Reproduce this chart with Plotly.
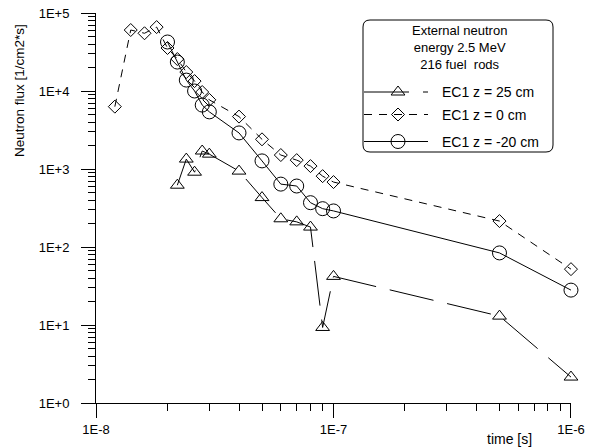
import plotly.graph_objects as go

# ---------------- data ----------------
t_z25 = [2.2e-8, 2.4e-8, 2.6e-8, 2.8e-8, 3.0e-8, 4e-8, 5e-8, 6e-8, 7e-8, 8e-8, 9e-8, 1e-7, 5e-7, 1e-6]
flux_z25 = [620, 1340, 910, 1700, 1550, 940, 430, 230, 210, 180, 9.3, 42, 13, 2.15]

t_z0 = [1.2e-8, 1.4e-8, 1.6e-8, 1.8e-8, 2.0e-8, 2.2e-8, 2.4e-8, 2.6e-8, 2.8e-8, 3.0e-8,
        4e-8, 5e-8, 6e-8, 7e-8, 8e-8, 9e-8, 1e-7, 5e-7, 1e-6]
flux_z0 = [6300, 60500, 55000, 66000, 35600, 25700, 17500, 13400, 9700, 7700,
           4700, 2400, 1510, 1300, 1090, 810, 680, 215, 52]

t_zm20 = [2.0e-8, 2.2e-8, 2.4e-8, 2.6e-8, 2.8e-8, 3.0e-8, 4e-8, 5e-8, 6e-8, 7e-8, 8e-8, 9e-8, 1e-7, 5e-7, 1e-6]
flux_zm20 = [42500, 23500, 13800, 10000, 6600, 5400, 2900, 1270, 640, 605, 370, 310, 290, 84, 28]

series_names = ["EC1 z = 25 cm", "EC1 z = 0 cm", "EC1 z = -20 cm"]
legend_title = ["External neutron", "energy 2.5 MeV", "216 fuel  rods"]

x_tickvals = [1e-8, 1e-7, 1e-6]
x_ticktext = ["1E-8", "1E-7", "1E-6"]
y_tickvals = [1, 10, 100, 1e3, 1e4, 1e5]
y_ticktext = ["1E+0", "1E+1", "1E+2", "1E+3", "1E+4", "1E+5"]

# ---------------- style ----------------
W, H = 590, 447
L, R, T, B = 96, 19, 13, 44
PW, PH = W - L - R, H - T - B
FONT = "Arial, 'Liberation Sans', Helvetica, sans-serif"


def px_to_paper(px, py):
    return (px - L) / PW, (H - B - py) / PH


styles = [
    dict(symbol="triangle-up-open", size=12, dash="45px,14px"),
    dict(symbol="diamond-open", size=10, dash="8px,7px"),
    dict(symbol="circle-open", size=14, dash="solid"),
]
data = [(t_z25, flux_z25), (t_z0, flux_z0), (t_zm20, flux_zm20)]

fig = go.Figure()
for (xs, ys), st, nm in zip(data, styles, series_names):
    fig.add_trace(go.Scatter(
        x=xs, y=ys, name=nm, mode="lines+markers",
        line=dict(color="black", width=1, dash=st["dash"]),
        marker=dict(symbol=st["symbol"], size=st["size"], color="black",
                    line=dict(width=1, color="black")),
        cliponaxis=False, showlegend=False,
    ))

# ---------------- manual legend (overlay pixel axes) ----------------
leg_rows_y = [92, 114.5, 141.5]
for (st, nm, yy) in zip(styles, series_names, leg_rows_y):
    fig.add_trace(go.Scatter(
        x=[364, 428], y=[yy, yy], mode="lines", xaxis="x2", yaxis="y2",
        line=dict(color="black", width=1, dash=st["dash"]),
        showlegend=False, hoverinfo="skip", cliponaxis=False))
    fig.add_trace(go.Scatter(
        x=[398], y=[yy], mode="markers", xaxis="x2", yaxis="y2",
        marker=dict(symbol=st["symbol"], size=st["size"], color="black",
                    line=dict(width=1, color="black")),
        showlegend=False, hoverinfo="skip", cliponaxis=False))
    fig.add_annotation(x=440, y=yy, xref="x2", yref="y2", text=nm, showarrow=False,
                       xanchor="left", yanchor="middle",
                       font=dict(family=FONT, size=14, color="black"))

fig.add_annotation(x=459, y=47, xref="x2", yref="y2", text="<br>".join(legend_title),
                   showarrow=False, xanchor="center", yanchor="middle", align="center",
                   font=dict(family=FONT, size=13, color="black"))

x0, x1, y0, y1, r = 363, 553, 20, 152, 7
path = (f"M {x0+r},{y0} L {x1-r},{y0} Q {x1},{y0} {x1},{y0+r} "
        f"L {x1},{y1-r} Q {x1},{y1} {x1-r},{y1} L {x0+r},{y1} "
        f"Q {x0},{y1} {x0},{y1-r} L {x0},{y0+r} Q {x0},{y0} {x0+r},{y0} Z")
fig.add_shape(type="path", path=path, xref="x2", yref="y2",
              line=dict(color="black", width=1), fillcolor="rgba(0,0,0,0)")

# axis titles (paper coordinates, outside the plot area)
tx, ty = px_to_paper(509, 439)
fig.add_annotation(x=tx, y=ty, xref="paper", yref="paper", text="time [s]", showarrow=False,
                   xanchor="center", yanchor="middle",
                   font=dict(family=FONT, size=14, color="black"))
yx, yy_ = px_to_paper(20, 91)
fig.add_annotation(x=yx, y=yy_, xref="paper", yref="paper", text="Neutron flux [1/cm2*s]",
                   showarrow=False, textangle=-90, xanchor="center", yanchor="middle",
                   font=dict(family=FONT, size=13.5, color="black"))

x_minor = [m * 10.0 ** e for e in (-8, -7) for m in range(2, 10)]
y_minor = [m * 10.0 ** e for e in range(0, 5) for m in range(2, 10)]

fig.update_layout(
    width=W, height=H,
    margin=dict(l=L, r=R, t=T, b=B, pad=0),
    paper_bgcolor="white", plot_bgcolor="white",
    font=dict(family=FONT, size=13, color="black"),
    xaxis=dict(type="log", range=[-8.0001, -5.9999], showgrid=False, zeroline=False,
               automargin=False,
               showline=True, linecolor="black", linewidth=1,
               tickmode="array", tickvals=x_tickvals, ticktext=x_ticktext,
               ticks="outside", ticklen=14, tickwidth=1, tickcolor="black",
               ticklabelstandoff=0, tickfont=dict(size=13),
               minor=dict(tickmode="array", tickvals=x_minor, ticks="outside",
                          ticklen=7, tickwidth=1, tickcolor="black", showgrid=False)),
    yaxis=dict(type="log", range=[0, 5], showgrid=False, zeroline=False,
               automargin=False,
               showline=True, linecolor="black", linewidth=1,
               tickmode="array", tickvals=y_tickvals, ticktext=y_ticktext,
               ticks="outside", ticklen=14, tickwidth=1, tickcolor="black",
               ticklabelstandoff=9, tickfont=dict(size=13),
               minor=dict(tickmode="array", tickvals=y_minor, ticks="outside",
                          ticklen=7, tickwidth=1, tickcolor="black", showgrid=False)),
    xaxis2=dict(overlaying="x", range=[L, W - R], visible=False, domain=[0, 1],
                anchor="y2", fixedrange=True, automargin=False),
    yaxis2=dict(overlaying="y", range=[H - B, T], visible=False, domain=[0, 1],
                anchor="x2", fixedrange=True, automargin=False),
)

fig.write_html("out.html")
